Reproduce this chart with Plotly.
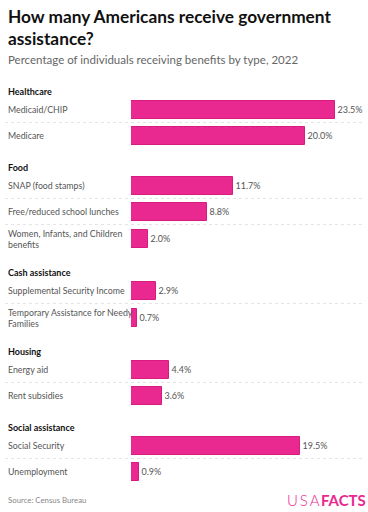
import plotly.graph_objects as go

groups = ["Healthcare", "Food", "Cash assistance", "Housing", "Social assistance"]
labels = [
    ["Medicaid/CHIP", "Medicare"],
    ["SNAP (food stamps)", "Free/reduced school lunches", "Women, Infants, and Children<br>benefits"],
    ["Supplemental Security Income", "Temporary Assistance for Needy<br>Families"],
    ["Energy aid", "Rent subsidies"],
    ["Social Security", "Unemployment"],
]
values = [
    [23.5, 20.0],
    [11.7, 8.8, 2.0],
    [2.9, 0.7],
    [4.4, 3.6],
    [19.5, 0.9],
]

W, H = 368, 512
FONT = "Lato"
PINK = "#e9298f"

# layout in pixel units (y axis runs 0..512 top-down)
top = 80
header_pos, row_y, row_lbl, row_val, dividers = [], [], [], [], []
for g, labs, vals in zip(groups, labels, values):
    header_pos.append(top + 11)
    cur = top + 16.5
    for i, (lab, v) in enumerate(zip(labs, vals)):
        hr = 29 if "<br>" in lab else 26
        if i > 0:
            dividers.append(cur)
        row_y.append(cur + hr / 2)
        row_lbl.append(lab)
        row_val.append(v)
        cur += hr
    top = cur + 7.5

fig = go.Figure()
fig.add_trace(go.Bar(
    x=row_val, y=row_y, orientation="h", width=18,
    marker=dict(color=PINK, line=dict(color="#d81b80", width=1)),
    text=[f"{v:.1f}%" for v in row_val], textposition="outside",
    textfont=dict(family=FONT, size=9, color="#555"),
    cliponaxis=False, hoverinfo="skip",
))

ann = []
ann.append(dict(x=6, y=4, xref="paper", yref="y", xanchor="left", yanchor="top",
                text="<b>How many Americans receive government<br>assistance?</b>",
                align="left", showarrow=False,
                font=dict(family=FONT, size=17.3, color="#111")))
ann.append(dict(x=6, y=59, xref="paper", yref="y", xanchor="left", yanchor="middle",
                text="Percentage of individuals receiving benefits by type, 2022",
                showarrow=False, font=dict(family=FONT, size=11.5, color="#666")))
for g, hy in zip(groups, header_pos):
    ann.append(dict(x=6, y=hy, xref="paper", yref="y", xanchor="left", yanchor="middle",
                    text=f"<b>{g}</b>", showarrow=False,
                    font=dict(family=FONT, size=9, color="#111")))
for lab, yy in zip(row_lbl, row_y):
    ann.append(dict(x=6, y=yy, xref="paper", yref="y", xanchor="left", yanchor="middle",
                    text=lab, align="left", showarrow=False,
                    font=dict(family=FONT, size=8.8, color="#555")))
ann.append(dict(x=6, y=500, xref="paper", yref="y", xanchor="left", yanchor="middle",
                text="Source: Census Bureau", showarrow=False,
                font=dict(family=FONT, size=7.8, color="#888")))
ann.append(dict(x=322, y=500, xref="paper", yref="y", xanchor="right", yanchor="middle",
                text="U\u2009S\u2009A", showarrow=False,
                font=dict(family=FONT, size=15, color=PINK, weight=300)))
ann.append(dict(x=319, y=500, xref="paper", yref="y", xanchor="left", yanchor="middle",
                text="<b>FACTS</b>", showarrow=False,
                font=dict(family=FONT, size=15, color=PINK)))
for a in ann:
    a["x"] = a["x"] / W

shapes = [dict(type="line", xref="paper", yref="y", x0=5 / W, x1=362 / W, y0=d, y1=d,
               line=dict(color="#e4e4e4", width=1, dash="dot")) for d in dividers]

fig.update_layout(
    width=W, height=H, margin=dict(l=0, r=0, t=0, b=0),
    paper_bgcolor="white", plot_bgcolor="white", showlegend=False,
    annotations=ann, shapes=shapes, bargap=0,
    xaxis=dict(domain=[131 / W, 1], range=[0, (W - 131) / 8.68], visible=False,
               fixedrange=True, zeroline=False, showgrid=False),
    yaxis=dict(domain=[0, 1], range=[H, 0], visible=False, fixedrange=True,
               zeroline=False, showgrid=False),
)
fig.write_html("out.html", config={"displayModeBar": False},
               post_script="document.body.style.margin='0';document.body.style.overflow='hidden';")
